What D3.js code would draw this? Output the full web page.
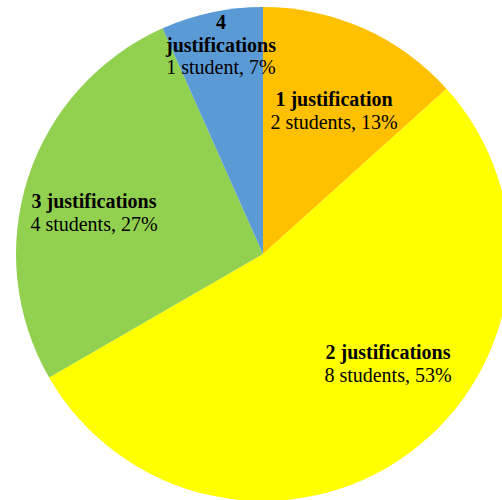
<!DOCTYPE html>
<html>
<head>
<meta charset="utf-8">
<script src="https://cdn.jsdelivr.net/npm/d3@7"></script>
<style>
  html, body { margin: 0; padding: 0; background: #ffffff; overflow: hidden; }
  svg { display: block; }
  text { font-family: "Liberation Serif", "Times New Roman", serif; fill: #000; }
</style>
</head>
<body>
<svg id="chart" width="502" height="500"></svg>
<script>
const categories = ["1 justification", "2 justifications", "3 justifications", "4 justifications"];
const students = [2, 8, 4, 1];
const percents = ["13%", "53%", "27%", "7%"];
const colors = ["#FFC000", "#FFFF00", "#92D050", "#5B9BD5"];
// label line layouts (multi-line titles)
const titleLines = [["1 justification"], ["2 justifications"], ["3 justifications"], ["4", "justifications"]];
const labelCenters = [[334, 106], [388, 359], [94, 208], [221, 29]]; // first baseline, label anchor

const svg = d3.select("#chart");
const cx = 263, cy = 254, r = 247;

const pie = d3.pie().sort(null).value(d => d)(students);
const arc = d3.arc().innerRadius(0).outerRadius(r);

const g = svg.append("g").attr("transform", `translate(${cx},${cy})`);
g.selectAll("path").data(pie).join("path")
  .attr("d", arc)
  .attr("fill", (d, i) => colors[i]);

const fs = 20, lh = 22.5;
const labels = svg.append("g");
pie.forEach((d, i) => {
  const [x, y] = labelCenters[i];
  const t = labels.append("text").attr("text-anchor", "middle").style("font-size", fs + "px");
  let k = 0;
  titleLines[i].forEach(line => {
    t.append("tspan").attr("x", x).attr("y", y + k * lh).style("font-weight", "bold").text(line);
    k++;
  });
  const n = students[i];
  t.append("tspan").attr("x", x).attr("y", y + k * lh)
    .text(`${n} ${n === 1 ? "student" : "students"}, ${percents[i]}`);
});
</script>
</body>
</html>
